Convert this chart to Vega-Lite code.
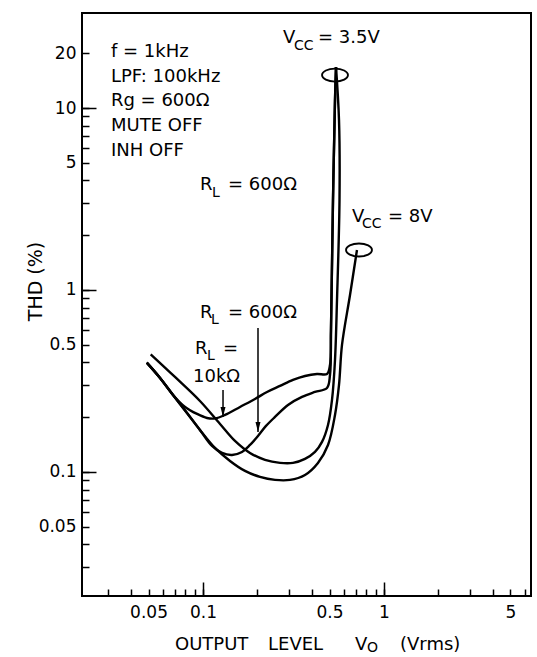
{
  "$schema": "https://vega.github.io/schema/vega-lite/v6.json",
  "width": 449,
  "height": 583,
  "autosize": {"type": "none"},
  "padding": {"left": 82, "top": 13, "right": 6, "bottom": 61},
  "background": "white",
  "config": {
    "view": {"stroke": "black", "strokeWidth": 2},
    "font": "DejaVu Sans",
    "axis": {"domain": false, "grid": false, "tickColor": "black", "tickWidth": 1.5, "labelColor": "black", "labelFont": "DejaVu Sans", "labelFontSize": 17, "labelOverlap": false, "labelFlush": false, "titleColor": "black"}
  },
  "datasets": {
    "curves": [
      {"s": "RL=10kΩ VCC=3.5V", "i": 1, "x": 0.0489, "y": 0.3986},
      {"s": "RL=10kΩ VCC=3.5V", "i": 2, "x": 0.0579, "y": 0.3284},
      {"s": "RL=10kΩ VCC=3.5V", "i": 3, "x": 0.0683, "y": 0.2649},
      {"s": "RL=10kΩ VCC=3.5V", "i": 4, "x": 0.0796, "y": 0.2276},
      {"s": "RL=10kΩ VCC=3.5V", "i": 5, "x": 0.0927, "y": 0.2084},
      {"s": "RL=10kΩ VCC=3.5V", "i": 6, "x": 0.1052, "y": 0.198},
      {"s": "RL=10kΩ VCC=3.5V", "i": 7, "x": 0.1165, "y": 0.1968},
      {"s": "RL=10kΩ VCC=3.5V", "i": 8, "x": 0.1323, "y": 0.2057},
      {"s": "RL=10kΩ VCC=3.5V", "i": 9, "x": 0.1601, "y": 0.2276},
      {"s": "RL=10kΩ VCC=3.5V", "i": 10, "x": 0.1937, "y": 0.2518},
      {"s": "RL=10kΩ VCC=3.5V", "i": 11, "x": 0.2257, "y": 0.2751},
      {"s": "RL=10kΩ VCC=3.5V", "i": 12, "x": 0.2663, "y": 0.2969},
      {"s": "RL=10kΩ VCC=3.5V", "i": 13, "x": 0.3142, "y": 0.3203},
      {"s": "RL=10kΩ VCC=3.5V", "i": 14, "x": 0.366, "y": 0.3368},
      {"s": "RL=10kΩ VCC=3.5V", "i": 15, "x": 0.4264, "y": 0.3455},
      {"s": "RL=10kΩ VCC=3.5V", "i": 16, "x": 0.4843, "y": 0.3455},
      {"s": "RL=10kΩ VCC=3.5V", "i": 17, "x": 0.5031, "y": 0.3872},
      {"s": "RL=10kΩ VCC=3.5V", "i": 18, "x": 0.5095, "y": 0.6031},
      {"s": "RL=10kΩ VCC=3.5V", "i": 19, "x": 0.5227, "y": 3.122},
      {"s": "RL=10kΩ VCC=3.5V", "i": 20, "x": 0.5362, "y": 11.07},
      {"s": "RL=10kΩ VCC=3.5V", "i": 21, "x": 0.543, "y": 16.8},
      {"s": "RL=600Ω VCC=3.5V", "i": 1, "x": 0.0489, "y": 0.3986},
      {"s": "RL=600Ω VCC=3.5V", "i": 2, "x": 0.0579, "y": 0.3284},
      {"s": "RL=600Ω VCC=3.5V", "i": 3, "x": 0.0683, "y": 0.2649},
      {"s": "RL=600Ω VCC=3.5V", "i": 4, "x": 0.0816, "y": 0.211},
      {"s": "RL=600Ω VCC=3.5V", "i": 5, "x": 0.0962, "y": 0.1702},
      {"s": "RL=600Ω VCC=3.5V", "i": 6, "x": 0.1121, "y": 0.139},
      {"s": "RL=600Ω VCC=3.5V", "i": 7, "x": 0.1274, "y": 0.1272},
      {"s": "RL=600Ω VCC=3.5V", "i": 8, "x": 0.1446, "y": 0.124},
      {"s": "RL=600Ω VCC=3.5V", "i": 9, "x": 0.1642, "y": 0.1288},
      {"s": "RL=600Ω VCC=3.5V", "i": 10, "x": 0.1818, "y": 0.1407},
      {"s": "RL=600Ω VCC=3.5V", "i": 11, "x": 0.2013, "y": 0.1577},
      {"s": "RL=600Ω VCC=3.5V", "i": 12, "x": 0.2229, "y": 0.179},
      {"s": "RL=600Ω VCC=3.5V", "i": 13, "x": 0.2499, "y": 0.2005},
      {"s": "RL=600Ω VCC=3.5V", "i": 14, "x": 0.2948, "y": 0.2334},
      {"s": "RL=600Ω VCC=3.5V", "i": 15, "x": 0.3524, "y": 0.2583},
      {"s": "RL=600Ω VCC=3.5V", "i": 16, "x": 0.4157, "y": 0.2751},
      {"s": "RL=600Ω VCC=3.5V", "i": 17, "x": 0.4843, "y": 0.2893},
      {"s": "RL=600Ω VCC=3.5V", "i": 18, "x": 0.5031, "y": 0.3411},
      {"s": "RL=600Ω VCC=3.5V", "i": 19, "x": 0.5095, "y": 0.6031},
      {"s": "RL=600Ω VCC=3.5V", "i": 20, "x": 0.5227, "y": 3.122},
      {"s": "RL=600Ω VCC=3.5V", "i": 21, "x": 0.5362, "y": 11.07},
      {"s": "RL=600Ω VCC=3.5V", "i": 22, "x": 0.543, "y": 16.8},
      {"s": "RL=600Ω VCC=8V", "i": 1, "x": 0.0514, "y": 0.4432},
      {"s": "RL=600Ω VCC=8V", "i": 2, "x": 0.07, "y": 0.3327},
      {"s": "RL=600Ω VCC=8V", "i": 3, "x": 0.0962, "y": 0.2455},
      {"s": "RL=600Ω VCC=8V", "i": 4, "x": 0.1242, "y": 0.1836},
      {"s": "RL=600Ω VCC=8V", "i": 5, "x": 0.1502, "y": 0.1481},
      {"s": "RL=600Ω VCC=8V", "i": 6, "x": 0.1818, "y": 0.1272},
      {"s": "RL=600Ω VCC=8V", "i": 7, "x": 0.2201, "y": 0.1164},
      {"s": "RL=600Ω VCC=8V", "i": 8, "x": 0.2663, "y": 0.1121},
      {"s": "RL=600Ω VCC=8V", "i": 9, "x": 0.3142, "y": 0.1121},
      {"s": "RL=600Ω VCC=8V", "i": 10, "x": 0.366, "y": 0.1179},
      {"s": "RL=600Ω VCC=8V", "i": 11, "x": 0.4157, "y": 0.1288},
      {"s": "RL=600Ω VCC=8V", "i": 12, "x": 0.4545, "y": 0.1462},
      {"s": "RL=600Ω VCC=8V", "i": 13, "x": 0.4905, "y": 0.1812},
      {"s": "RL=600Ω VCC=8V", "i": 14, "x": 0.5161, "y": 0.2487},
      {"s": "RL=600Ω VCC=8V", "i": 15, "x": 0.5362, "y": 0.4125},
      {"s": "RL=600Ω VCC=8V", "i": 16, "x": 0.55, "y": 0.8812},
      {"s": "RL=600Ω VCC=8V", "i": 17, "x": 0.5678, "y": 3.122},
      {"s": "RL=600Ω VCC=8V", "i": 18, "x": 0.5642, "y": 8.59},
      {"s": "RL=600Ω VCC=8V", "i": 19, "x": 0.543, "y": 16.8},
      {"s": "RL=10kΩ VCC=8V", "i": 1, "x": 0.0489, "y": 0.3986},
      {"s": "RL=10kΩ VCC=8V", "i": 2, "x": 0.0579, "y": 0.3284},
      {"s": "RL=10kΩ VCC=8V", "i": 3, "x": 0.0683, "y": 0.2649},
      {"s": "RL=10kΩ VCC=8V", "i": 4, "x": 0.0816, "y": 0.211},
      {"s": "RL=10kΩ VCC=8V", "i": 5, "x": 0.0962, "y": 0.1702},
      {"s": "RL=10kΩ VCC=8V", "i": 6, "x": 0.1165, "y": 0.1355},
      {"s": "RL=10kΩ VCC=8V", "i": 7, "x": 0.141, "y": 0.1149},
      {"s": "RL=10kΩ VCC=8V", "i": 8, "x": 0.1706, "y": 0.1013},
      {"s": "RL=10kΩ VCC=8V", "i": 9, "x": 0.2065, "y": 0.0939},
      {"s": "RL=10kΩ VCC=8V", "i": 10, "x": 0.2499, "y": 0.0904},
      {"s": "RL=10kΩ VCC=8V", "i": 11, "x": 0.3024, "y": 0.0904},
      {"s": "RL=10kΩ VCC=8V", "i": 12, "x": 0.366, "y": 0.0963},
      {"s": "RL=10kΩ VCC=8V", "i": 13, "x": 0.4317, "y": 0.1121},
      {"s": "RL=10kΩ VCC=8V", "i": 14, "x": 0.4905, "y": 0.1407},
      {"s": "RL=10kΩ VCC=8V", "i": 15, "x": 0.5362, "y": 0.2057},
      {"s": "RL=10kΩ VCC=8V", "i": 16, "x": 0.5642, "y": 0.3006},
      {"s": "RL=10kΩ VCC=8V", "i": 17, "x": 0.5861, "y": 0.4987},
      {"s": "RL=10kΩ VCC=8V", "i": 18, "x": 0.649, "y": 0.9387},
      {"s": "RL=10kΩ VCC=8V", "i": 19, "x": 0.7091, "y": 1.659}
    ],
    "notes": [
      {"t": "f = 1kHz", "x": 0.031, "y": 19.06},
      {"t": "LPF: 100kHz", "x": 0.031, "y": 13.9},
      {"t": "Rg = 600Ω", "x": 0.031, "y": 10.26},
      {"t": "MUTE OFF", "x": 0.031, "y": 7.474},
      {"t": "INH OFF", "x": 0.031, "y": 5.449},
      {"t": "V", "x": 0.2767, "y": 22.76},
      {"t": "= 3.5V", "x": 0.4317, "y": 22.76},
      {"t": "R", "x": 0.0962, "y": 3.544},
      {"t": "= 600Ω", "x": 0.1374, "y": 3.544},
      {"t": "R", "x": 0.0962, "y": 0.7017},
      {"t": "= 600Ω", "x": 0.1374, "y": 0.7017},
      {"t": "R", "x": 0.0903, "y": 0.4451},
      {"t": "=", "x": 0.129, "y": 0.4451},
      {"t": "10kΩ", "x": 0.0881, "y": 0.3122},
      {"t": "V", "x": 0.6657, "y": 2.364},
      {"t": "= 8V", "x": 1.052, "y": 2.364},
      {"t": "OUTPUT", "x": 0.07, "y": 0.01052},
      {"t": "LEVEL", "x": 0.2286, "y": 0.01052},
      {"t": "V", "x": 0.6916, "y": 0.01052},
      {"t": "(Vrms)", "x": 1.226, "y": 0.01052}
    ],
    "subs": [
      {"t": "CC", "x": 0.3183, "y": 20.83},
      {"t": "L", "x": 0.1121, "y": 3.243},
      {"t": "L", "x": 0.1107, "y": 0.6505},
      {"t": "L", "x": 0.1052, "y": 0.4125},
      {"t": "CC", "x": 0.7555, "y": 2.191},
      {"t": "O", "x": 0.8055, "y": 0.0102}
    ],
    "arrows": [
      {"x": 0.129, "y": 0.2822, "y2": 0.2005},
      {"x": 0.2013, "y": 0.6183, "y2": 0.1659}
    ],
    "rings": [
      {"x": 0.5362, "y": 15.18},
      {"x": 0.7276, "y": 1.659}
    ]
  },
  "layer": [
    {
      "data": {"name": "curves"},
      "mark": {"type": "line", "color": "black", "strokeWidth": 2.4, "interpolate": "catmull-rom"},
      "encoding": {
        "x": {"field": "x", "type": "quantitative",
          "scale": {"type": "log", "domain": [0.02145, 6.49], "nice": false},
          "axis": {"orient": "bottom", "title": null, "tickSize": -7, "labelPadding": 15,
            "values": [0.03,0.04,0.05,0.06,0.07,0.08,0.09,0.1,0.2,0.3,0.4,0.5,0.6,0.7,0.8,0.9,1,2,3,4,5,6],
            "labelExpr": "indexof([0.05,0.1,0.5,1,5], datum.value) >= 0 ? '' + datum.value : ''"}},
        "y": {"field": "y", "type": "quantitative",
          "scale": {"type": "log", "domain": [0.0208, 33.3], "nice": false},
          "axis": {"orient": "left", "title": "THD (%)", "tickSize": -7, "labelPadding": 13,
            "values": [0.03,0.04,0.05,0.06,0.07,0.08,0.09,0.1,0.2,0.3,0.4,0.5,0.6,0.7,0.8,0.9,1,2,3,4,5,6,7,8,9,10,20],
            "labelExpr": "indexof([0.05,0.1,0.5,1,5,10,20], datum.value) >= 0 ? '' + datum.value : ''",
            "titleX": -47, "titleY": 268, "titleAngle": 270, "titleAlign": "center", "titleBaseline": "middle",
            "titleFont": "DejaVu Sans", "titleFontSize": 19, "titleFontWeight": "normal"}},
        "detail": {"field": "s", "type": "nominal"},
        "order": {"field": "i", "type": "quantitative"}
      }
    },
    {
      "data": {"name": "notes"},
      "mark": {"type": "text", "align": "left", "baseline": "alphabetic", "font": "DejaVu Sans", "fontSize": 18, "color": "black"},
      "encoding": {
        "x": {"field": "x", "type": "quantitative", "scale": {"type": "log", "domain": [0.02145, 6.49], "nice": false},
          "axis": {"orient": "bottom", "title": null, "values": [0.1, 1], "tickSize": -14, "labels": false}},
        "y": {"field": "y", "type": "quantitative", "scale": {"type": "log", "domain": [0.0208, 33.3], "nice": false},
          "axis": {"orient": "left", "title": null, "values": [0.1, 1, 10], "tickSize": -14, "labels": false}},
        "text": {"field": "t", "type": "nominal"}
      }
    },
    {
      "data": {"name": "subs"},
      "mark": {"type": "text", "align": "left", "baseline": "alphabetic", "font": "DejaVu Sans", "fontSize": 14, "color": "black"},
      "encoding": {
        "x": {"field": "x", "type": "quantitative", "scale": {"type": "log", "domain": [0.02145, 6.49], "nice": false}, "axis": null},
        "y": {"field": "y", "type": "quantitative", "scale": {"type": "log", "domain": [0.0208, 33.3], "nice": false}, "axis": null},
        "text": {"field": "t", "type": "nominal"}
      }
    },
    {
      "data": {"name": "arrows"},
      "mark": {"type": "rule", "color": "black", "strokeWidth": 1.5},
      "encoding": {
        "x": {"field": "x", "type": "quantitative", "scale": {"type": "log", "domain": [0.02145, 6.49], "nice": false}, "axis": null},
        "y": {"field": "y", "type": "quantitative", "scale": {"type": "log", "domain": [0.0208, 33.3], "nice": false}, "axis": null},
        "y2": {"field": "y2"}
      }
    },
    {
      "data": {"name": "arrows"},
      "mark": {"type": "point", "shape": "M -1 -4 L 1 -4 L 0 0 Z", "size": 25, "filled": true, "color": "black", "opacity": 1},
      "encoding": {
        "x": {"field": "x", "type": "quantitative", "scale": {"type": "log", "domain": [0.02145, 6.49], "nice": false}, "axis": null},
        "y": {"field": "y2", "type": "quantitative", "scale": {"type": "log", "domain": [0.0208, 33.3], "nice": false}, "axis": null}
      }
    },
    {
      "data": {"name": "rings"},
      "mark": {"type": "point", "shape": "M -1 0 A 1 0.5 0 1 0 1 0 A 1 0.5 0 1 0 -1 0 Z", "size": 676, "filled": false, "color": "black", "strokeWidth": 1.8, "opacity": 1},
      "encoding": {
        "x": {"field": "x", "type": "quantitative", "scale": {"type": "log", "domain": [0.02145, 6.49], "nice": false}, "axis": null},
        "y": {"field": "y", "type": "quantitative", "scale": {"type": "log", "domain": [0.0208, 33.3], "nice": false}, "axis": null}
      }
    }
  ],
  "resolve": {"axis": {"x": "independent", "y": "independent"}}
}
